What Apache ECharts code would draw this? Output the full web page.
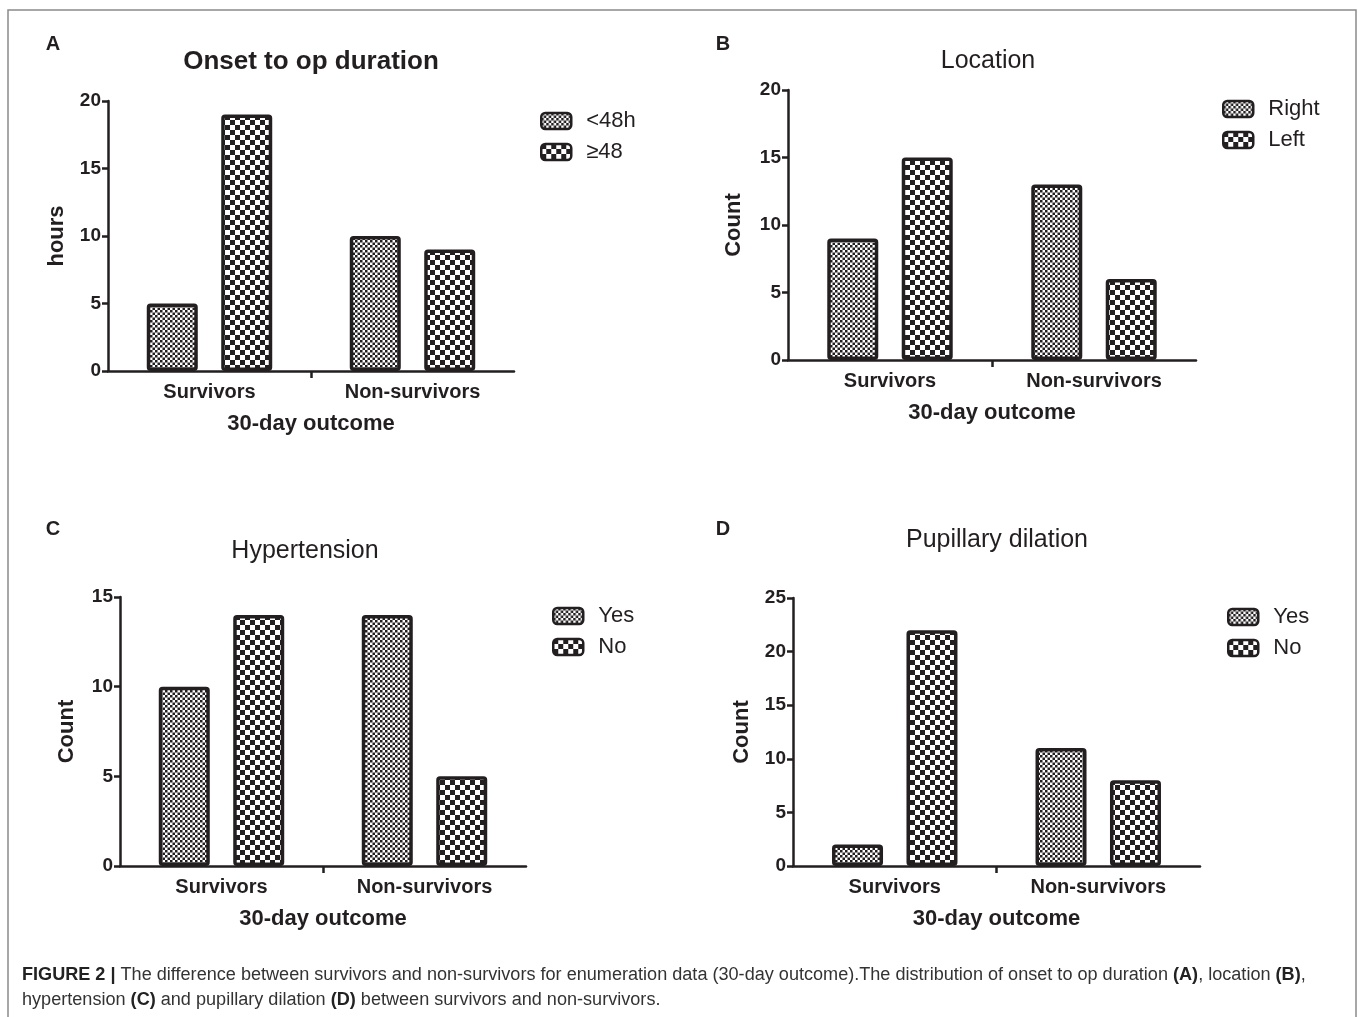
<!DOCTYPE html>
<html><head><meta charset="utf-8">
<script src="https://cdn.jsdelivr.net/npm/echarts@6/dist/echarts.min.js"></script>
<style>html,body{margin:0;padding:0;background:#fff}#c{width:1358px;height:1017px}</style>
</head><body><div id="c"></div>
<script>
const categories = ['Survivors', 'Non-survivors'];
const onsetLt48 = [5, 10];
const onsetGe48 = [19, 9];
const locRight = [9, 13];
const locLeft = [15, 6];
const htnYes = [10, 14];
const htnNo = [14, 5];
const pupYes = [2, 11];
const pupNo = [22, 8];
const yMaxA = 20, yMaxB = 20, yMaxC = 15, yMaxD = 25, yStep = 5;

const INK = '#231f20';
const FONT = '"Liberation Sans", Arial, sans-serif';

function makePattern(cell) {
  const c = document.createElement('canvas');
  c.width = c.height = cell * 2;
  const g = c.getContext('2d');
  g.fillStyle = '#fff'; g.fillRect(0, 0, cell * 2, cell * 2);
  g.fillStyle = INK;
  g.fillRect(0, 0, cell, cell);
  g.fillRect(cell, cell, cell, cell);
  return { image: c, repeat: 'repeat' };
}
const fine = makePattern(2.5);
const coarse = makePattern(5);

const panels = [
  { letter: 'A', lx: 53, ly: 42, title: 'Onset to op duration', titleBold: true, tx: 311, ty: 62,
    grid: { left: 108, top: 101, width: 406, height: 270 }, max: yMaxA, yname: 'hours', ygap: 40,
    names: ['<48h', '\u226548'], s1: onsetLt48, s2: onsetGe48, leg: { left: 540, top: 110 } },
  { letter: 'B', lx: 723, ly: 42, title: 'Location', titleBold: false, tx: 988, ty: 62,
    grid: { left: 788, top: 90, width: 408, height: 270 }, max: yMaxB, yname: 'Count', ygap: 43,
    names: ['Right', 'Left'], s1: locRight, s2: locLeft, leg: { left: 1222, top: 98 } },
  { letter: 'C', lx: 53, ly: 527, title: 'Hypertension', titleBold: false, tx: 305, ty: 552,
    grid: { left: 120, top: 597, width: 406, height: 269 }, max: yMaxC, yname: 'Count', ygap: 42,
    names: ['Yes', 'No'], s1: htnYes, s2: htnNo, leg: { left: 552, top: 605 } },
  { letter: 'D', lx: 723, ly: 527, title: 'Pupillary dilation', titleBold: false, tx: 997, ty: 541,
    grid: { left: 793, top: 598, width: 407, height: 268 }, max: yMaxD, yname: 'Count', ygap: 40,
    names: ['Yes', 'No'], s1: pupYes, s2: pupNo, leg: { left: 1227, top: 606 } }
];

const option = {
  animation: false,
  backgroundColor: '#fff',
  textStyle: { fontFamily: FONT, color: INK },
  title: [], legend: [], grid: [], xAxis: [], yAxis: [], series: [],
  graphic: [
    { type: 'rect', shape: { x: 8, y: 10, width: 1348, height: 1030 },
      style: { fill: 'none', stroke: '#8a8a8a', lineWidth: 1.5 }, silent: true },
    { type: 'text', x: 22, y: 966, scaleX: 1.005,
      style: { text: '{b|FIGURE 2 |} The difference between survivors and non-survivors for enumeration data (30-day outcome).The distribution of onset to op duration {b|(A)}, location {b|(B)},',
        font: '18px ' + FONT, fill: '#333',
        rich: { b: { fontWeight: 'bold', fontSize: 18, fontFamily: FONT, fill: '#222' } } } },
    { type: 'text', x: 22, y: 991, scaleX: 1.005,
      style: { text: 'hypertension {b|(C)} and pupillary dilation {b|(D)} between survivors and non-survivors.',
        font: '18px ' + FONT, fill: '#333',
        rich: { b: { fontWeight: 'bold', fontSize: 18, fontFamily: FONT, fill: '#222' } } } }
  ]
};

panels.forEach((p, i) => {
  option.graphic.push({ type: 'text', x: p.lx, y: p.ly + 2,
    style: { text: p.letter, font: 'bold 20px ' + FONT, fill: INK, align: 'center', verticalAlign: 'middle' } });
  option.title.push({ text: p.title, left: p.tx, top: p.ty - 13, textAlign: 'center', padding: 0,
    textStyle: { fontSize: p.titleBold ? 26 : 25, fontWeight: p.titleBold ? 'bold' : 'normal', color: INK, fontFamily: FONT } });
  option.grid.push(Object.assign({ outerBoundsMode: 'none', containLabel: false }, p.grid));
  option.xAxis.push({
    type: 'category', gridIndex: i, data: categories,
    axisLine: { show: true, lineStyle: { color: INK, width: 2.5 } },
    axisTick: { show: false },
    axisLabel: { margin: 11, fontSize: 20, fontWeight: 'bold', color: INK, fontFamily: FONT },
    name: '30-day outcome', nameLocation: 'middle', nameGap: 42,
    nameTextStyle: { fontSize: 22, fontWeight: 'bold', color: INK, fontFamily: FONT }
  });
  option.xAxis.push({
    type: 'value', gridIndex: i, min: 0, max: 2, interval: 1, position: 'bottom',
    axisLine: { show: false }, axisLabel: { show: false }, splitLine: { show: false },
    axisTick: { show: true, customValues: [1], length: 7, lineStyle: { color: INK, width: 2.5 } }
  });
  option.yAxis.push({
    type: 'value', gridIndex: i, min: 0, max: p.max, interval: yStep,
    axisLine: { show: true, lineStyle: { color: INK, width: 2.5 } },
    axisTick: { show: true, length: 6, lineStyle: { color: INK, width: 2.5 } },
    splitLine: { show: false },
    axisLabel: { margin: 7, fontSize: 19, fontWeight: 'bold', color: INK, fontFamily: FONT },
    name: p.yname, nameLocation: 'middle', nameGap: p.ygap, nameRotate: 90,
    nameTextStyle: { fontSize: 22, fontWeight: 'bold', color: INK, fontFamily: FONT }
  });
  const base = { type: 'bar', xAxisIndex: i * 2, yAxisIndex: i, barWidth: 51, barGap: '46%' };
  option.series.push(Object.assign({}, base, { name: p.names[0], data: p.s1,
    itemStyle: { color: fine, borderColor: INK, borderWidth: 3.5, borderRadius: 2 } }));
  option.series.push(Object.assign({}, base, { name: p.names[1], data: p.s2,
    itemStyle: { color: coarse, borderColor: INK, borderWidth: 3.5, borderRadius: 2 } }));
  option.legend.push({
    data: p.names, orient: 'vertical', left: p.leg.left, top: p.leg.top, padding: 0,
    itemWidth: 30, itemHeight: 16, itemGap: 9, icon: 'roundRect',
    itemStyle: { borderColor: INK, borderWidth: 2.5 },
    textStyle: { fontSize: 22, color: INK, fontFamily: FONT, padding: [0, 0, 0, 10] },
    selectedMode: false
  });
});

const chart = echarts.init(document.getElementById('c'), null, { renderer: 'canvas' });
chart.setOption(option);
</script></body></html>
